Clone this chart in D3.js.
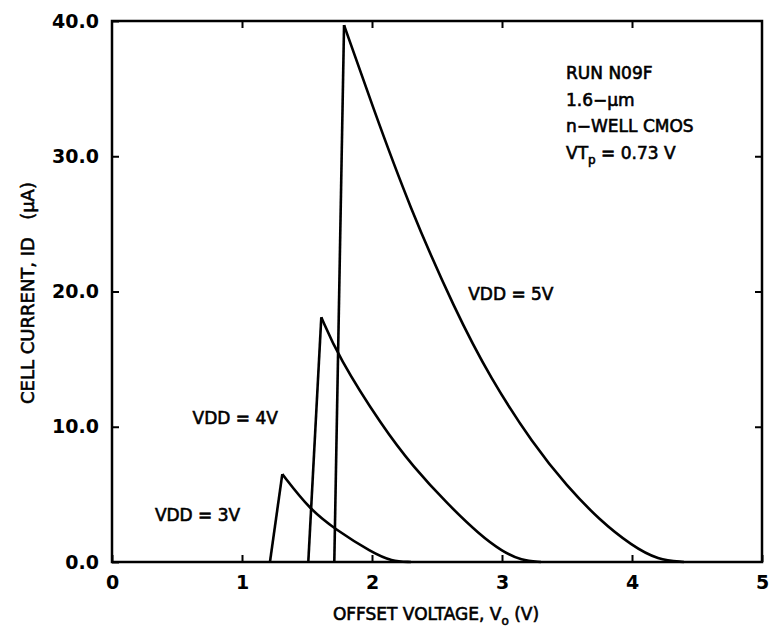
<!DOCTYPE html>
<html>
<head>
<meta charset="utf-8">
<script src="https://cdn.jsdelivr.net/npm/d3@7"></script>
<style>
  body { margin: 0; background: #fff; }
  text { font-family: 'DejaVu Sans', sans-serif; fill: #000; }
</style>
</head>
<body>
<svg id="chart" width="771" height="633"></svg>
<script>
// offset voltage (V) / cell current (uA)
const vdd3X = [1.215, 1.31, 1.52, 1.72, 2.0, 2.15, 2.3];
const vdd3Y = [0, 6.5, 3.9, 2.4, 0.7, 0.05, 0];
const vdd4X = [1.51, 1.61, 1.74, 2.08, 2.32, 2.58, 2.83, 3.0, 3.15, 3.3];
const vdd4Y = [0, 18.1, 15.2, 10.0, 7.0, 4.3, 2.0, 0.8, 0.1, 0];
const vdd5X = [1.71, 1.785, 2.0, 2.29, 2.64, 2.91, 3.24, 3.5, 3.75, 4.0, 4.2, 4.4];
const vdd5Y = [0, 39.7, 33.8, 26.2, 18.6, 13.6, 8.7, 5.6, 3.1, 1.2, 0.15, 0];
const xTicks = [0, 1, 2, 3, 4, 5];
const yTicks = [0, 10, 20, 30, 40];
const curveLabels = ['VDD = 3V', 'VDD = 4V', 'VDD = 5V'];
const noteLines = ['RUN N09F', '1.6\u2212\u03bcm', 'n\u2212WELL CMOS'];

const svg = d3.select('#chart');
const plotL = 112, plotR = 762, plotT = 21, plotB = 562;

const x = d3.scaleLinear().domain([0, 5]).range([plotL, plotR]);
const y = d3.scaleLinear().domain([0, 40]).range([plotB, plotT]);

const series = [
  { xs: vdd3X, ys: vdd3Y, label: curveLabels[0], lx: 0.33, ly: 3.0 },
  { xs: vdd4X, ys: vdd4Y, label: curveLabels[1], lx: 0.62, ly: 10.2 },
  { xs: vdd5X, ys: vdd5Y, label: curveLabels[2], lx: 2.74, ly: 19.4 },
].map((s) => ({ ...s, pts: s.xs.map((v, i) => [v, s.ys[i]]) }));

// ticks (inward, all four sides)
const bottomAxis = d3.axisBottom(x).tickValues(xTicks).tickSizeInner(-7).tickSizeOuter(0).tickPadding(14).tickFormat(d3.format('d'));
const leftAxis = d3.axisLeft(y).tickValues(yTicks).tickSizeInner(-7).tickSizeOuter(0).tickPadding(13).tickFormat(d3.format('.1f'));
const topAxis = d3.axisTop(x).tickValues(xTicks.slice(1, -1)).tickSizeInner(-7).tickSizeOuter(0).tickFormat('');
const rightAxis = d3.axisRight(y).tickValues(yTicks.slice(1, -1)).tickSizeInner(-7).tickSizeOuter(0).tickFormat('');

function styleAxis(g) {
  g.select('.domain').remove();
  g.selectAll('line').attr('stroke', '#000').attr('stroke-width', 2);
  g.selectAll('text').attr('font-size', 19).attr('font-weight', 'bold').attr('font-family', "'DejaVu Sans', sans-serif");
}

svg.append('g').attr('transform', `translate(0,${plotB})`).call(bottomAxis).call(styleAxis);
svg.append('g').attr('transform', `translate(${plotL},0)`).call(leftAxis).call(styleAxis);
svg.append('g').attr('transform', `translate(0,${plotT})`).call(topAxis).call(styleAxis);
svg.append('g').attr('transform', `translate(${plotR},0)`).call(rightAxis).call(styleAxis);

svg.append('rect')
  .attr('x', plotL).attr('y', plotT)
  .attr('width', plotR - plotL).attr('height', plotB - plotT)
  .attr('fill', 'none').attr('stroke', '#000').attr('stroke-width', 2.5);

// rising edge straight, decay smooth
const rise = d3.line().x((d) => x(d[0])).y((d) => y(d[1]));
const decay = d3.line().x((d) => x(d[0])).y((d) => y(d[1])).curve(d3.curveBasis);

series.forEach((s) => {
  svg.append('path').attr('d', rise(s.pts.slice(0, 2)))
    .attr('fill', 'none').attr('stroke', '#000').attr('stroke-width', 2.6);
  svg.append('path').attr('d', decay(s.pts.slice(1)))
    .attr('fill', 'none').attr('stroke', '#000').attr('stroke-width', 2.6);
  svg.append('text')
    .attr('x', x(s.lx)).attr('y', y(s.ly))
    .attr('font-size', 17).attr('stroke', '#000').attr('stroke-width', 0.6)
    .text(s.label);
});

// note block in upper right
const note = svg.append('g').attr('font-size', 17);
noteLines.forEach((t, i) => {
  note.append('text').attr('x', 566).attr('y', 79 + i * 26.5)
    .attr('stroke', '#000').attr('stroke-width', 0.6)
    .attr('xml:space', 'preserve')
    .text(t);
});
const vt = note.append('text').attr('x', 566).attr('y', 158.5)
  .attr('stroke', '#000').attr('stroke-width', 0.6);
vt.append('tspan').text('VT');
vt.append('tspan').attr('font-size', 12).attr('dy', 5).text('p');
vt.append('tspan').attr('dy', -5).text(' = 0.73 V');

// axis titles
const xt = svg.append('text')
  .attr('x', 436).attr('y', 620).attr('text-anchor', 'middle')
  .attr('font-size', 17).attr('stroke', '#000').attr('stroke-width', 0.6);
xt.append('tspan').text('OFFSET VOLTAGE, V');
xt.append('tspan').attr('font-size', 12).attr('dy', 5).text('o');
xt.append('tspan').attr('dy', -5).text(' (V)');

svg.append('text')
  .attr('transform', 'translate(34,293) rotate(-90)')
  .attr('text-anchor', 'middle').attr('font-size', 18)
  .attr('stroke', '#000').attr('stroke-width', 0.6)
  .attr('xml:space', 'preserve')
  .text('CELL CURRENT, ID   (\u03bcA)');
</script>
</body>
</html>
